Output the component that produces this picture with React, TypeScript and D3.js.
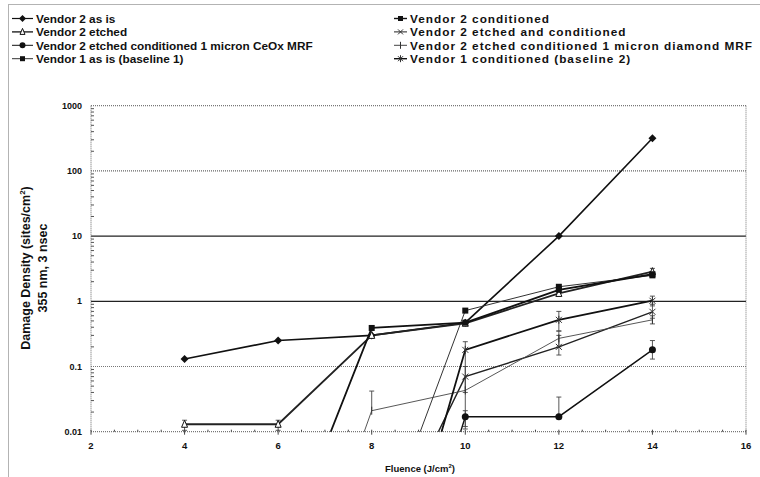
import React, { useEffect, useRef } from "react";
import * as d3 from "d3";

// fluence points (J/cm2)
const fluence = [4, 6, 8, 10, 12, 14];

const seriesNames = [
  "Vendor 2 as is",
  "Vendor 2 etched",
  "Vendor 2 etched conditioned 1 micron CeOx MRF",
  "Vendor 1 as is (baseline 1)",
  "Vendor 2 conditioned",
  "Vendor 2 etched and conditioned",
  "Vendor 2 etched conditioned 1 micron diamond MRF",
  "Vendor 1 conditioned (baseline 2)",
];

// damage density (sites/cm2); tiny values are the points that fall off the bottom of the log axis
const v2AsIs = [0.13, 0.25, 0.3, 0.47, 10, 316];
const v2Etched = [0.013, 0.013, 0.3, 0.46, 1.32, 2.85];
const v2CeOx = [null, null, 0.0000004, 0.017, 0.017, 0.18];
const v1AsIs = [null, null, 0.0001, 0.72, 1.67, 2.5];
const v2Cond = [null, 0.00009, 0.39, 0.47, 1.5, 2.6];
const v2EtchedCond = [null, null, 0.00008, 0.07, 0.2, 0.69];
const v2Diamond = [null, 0.000002, 0.021, 0.043, 0.27, 0.52];
const v1Cond = [null, null, 0.000002, 0.18, 0.52, 1.02];

// error bars (upper / lower), null = none
const errHi = [
  [null, null, null, null, null, null],
  [0.015, 0.015, null, null, null, 3.2],
  [null, null, null, 0.021, 0.034, 0.25],
  [null, null, null, null, null, null],
  [null, null, null, null, null, null],
  [null, null, null, 0.1, 0.3, 0.9],
  [null, null, 0.042, null, 0.35, 0.6],
  [null, null, null, 0.24, 0.7, 1.2],
];
const errLo = [
  [null, null, null, null, null, null],
  [0.0105, 0.0105, null, null, null, 2.5],
  [null, null, null, 0.011, null, 0.13],
  [null, null, null, null, null, null],
  [null, null, null, null, null, null],
  [null, null, null, 0.04, 0.15, 0.55],
  [null, null, null, null, 0.2, 0.45],
  [null, null, null, 0.012, 0.35, 0.85],
];

const xTicks = [2, 4, 6, 8, 10, 12, 14, 16];
const yTicks = [0.01, 0.1, 1, 10, 100, 1000];
const yTickLabels = ["0.01", "0.1", "1", "10", "100", "1000"];

const allValues = [v2AsIs, v2Etched, v2CeOx, v1AsIs, v2Cond, v2EtchedCond, v2Diamond, v1Cond];

// drawing style per series
const markers = ["diamond", "triangle", "circle", "square", "square", "cross", "plus", "star"];
const widths = [1.6, 1.8, 1.4, 1, 1.8, 1.4, 0.9, 1.8];
const strokes = ["#111", "#222", "#111", "#333", "#111", "#222", "#444", "#111"];

function drawMarker(g, type, x, y, s) {
  const k = s / 2;
  if (type === "diamond") {
    g.append("path")
      .attr("d", `M${x},${y - k - 1}L${x + k + 1},${y}L${x},${y + k + 1}L${x - k - 1},${y}Z`)
      .attr("fill", "#111");
  } else if (type === "triangle") {
    g.append("path")
      .attr("d", `M${x},${y - k - 1}L${x + k},${y + k}L${x - k},${y + k}Z`)
      .attr("fill", "#fff")
      .attr("stroke", "#111")
      .attr("stroke-width", 1);
  } else if (type === "circle") {
    g.append("circle").attr("cx", x).attr("cy", y).attr("r", k + 0.5).attr("fill", "#111");
  } else if (type === "square") {
    g.append("rect")
      .attr("x", x - k)
      .attr("y", y - k)
      .attr("width", s)
      .attr("height", s)
      .attr("fill", "#111");
  } else {
    const p = d3.path();
    if (type === "cross" || type === "star") {
      p.moveTo(x - k, y - k);
      p.lineTo(x + k, y + k);
      p.moveTo(x - k, y + k);
      p.lineTo(x + k, y - k);
    }
    if (type === "plus" || type === "star") {
      p.moveTo(x, y - k - 1);
      p.lineTo(x, y + k + 1);
    }
    g.append("path").attr("d", p.toString()).attr("stroke", "#333").attr("stroke-width", 1).attr("fill", "none");
  }
}

function Chart() {
  const ref = useRef(null);

  useEffect(() => {
    const svg = d3.select(ref.current);
    svg.selectAll("*").remove();

    const left = 91,
      right = 746,
      top = 105.7,
      bottom = 431.7;
    const x = d3.scaleLinear().domain([2, 16]).range([left, right]);
    const y = d3.scaleLog().domain([0.01, 1000]).range([bottom, top]);

    const font = "'Liberation Sans', Arial, sans-serif";

    // outer chart border (dotted)
    svg.append("rect")
      .attr("x", 8.5)
      .attr("y", 4.5)
      .attr("width", 800)
      .attr("height", 500)
      .attr("fill", "none")
      .attr("stroke", "#666")
      .attr("stroke-dasharray", "1,1");

    // legend
    const leg = svg.append("g").style("font", `bold 11.8px ${font}`);
    seriesNames.forEach((name, i) => {
      const col = i < 4 ? 0 : 1;
      const row = i % 4;
      const ly = 18.5 + row * 13.4;
      const lx0 = col === 0 ? 12 : 394;
      const lx1 = col === 0 ? 33 : 407;
      leg.append("line")
        .attr("x1", lx0)
        .attr("x2", lx1)
        .attr("y1", ly)
        .attr("y2", ly)
        .attr("stroke", strokes[i])
        .attr("stroke-width", Math.max(1, widths[i] - 0.4));
      drawMarker(leg, markers[i], (lx0 + lx1) / 2, ly, 5);
      leg.append("text")
        .attr("x", col === 0 ? 36 : 410)
        .attr("y", ly)
        .attr("dy", "0.36em")
        .attr("fill", "#111")
        .attr("letter-spacing", col === 0 ? 0 : 1)
        .text(name);
    });

    // gridlines
    const gridStyle = [
      { dash: "1,1", c: "#777" },
      { dash: "1,1", c: "#777" },
      { dash: null, c: "#222" },
      { dash: null, c: "#222" },
      { dash: "1,1", c: "#666" },
      { dash: "1,1", c: "#777" },
    ];
    svg.append("g")
      .selectAll("line")
      .data(yTicks)
      .join("line")
      .attr("x1", left)
      .attr("x2", right)
      .attr("y1", (d) => y(d))
      .attr("y2", (d) => y(d))
      .attr("stroke", (d, i) => gridStyle[i].c)
      .attr("stroke-width", 1.2)
      .attr("stroke-dasharray", (d, i) => gridStyle[i].dash);

    // plot frame sides
    svg.append("line")
      .attr("x1", right)
      .attr("x2", right)
      .attr("y1", top)
      .attr("y2", bottom)
      .attr("stroke", "#777")
      .attr("stroke-dasharray", "1,1");
    svg.append("line")
      .attr("x1", left)
      .attr("x2", left)
      .attr("y1", top)
      .attr("y2", bottom)
      .attr("stroke", "#666")
      .attr("stroke-dasharray", "1,1");

    // y minor ticks
    const minors = [];
    for (let e = -2; e < 3; e++) {
      for (let m = 2; m < 10; m++) minors.push(m * Math.pow(10, e));
    }
    svg.append("g")
      .selectAll("line")
      .data(minors)
      .join("line")
      .attr("x1", left)
      .attr("x2", left + 3)
      .attr("y1", (d) => y(d))
      .attr("y2", (d) => y(d))
      .attr("stroke", "#555");

    // x minor ticks
    const xMinors = d3.range(2, 16.01, 0.5);
    svg.append("g")
      .selectAll("line")
      .data(xMinors)
      .join("line")
      .attr("x1", (d) => x(d))
      .attr("x2", (d) => x(d))
      .attr("y1", bottom - 2)
      .attr("y2", (d) => bottom + (d % 2 === 0 ? 3 : 0))
      .attr("stroke", "#444");

    // tick labels
    svg.append("g")
      .style("font", `bold 9px ${font}`)
      .selectAll("text")
      .data(yTicks)
      .join("text")
      .attr("x", left - 9)
      .attr("y", (d) => y(d))
      .attr("dy", "0.35em")
      .attr("text-anchor", "end")
      .attr("fill", "#111")
      .text((d, i) => yTickLabels[i]);
    svg.append("g")
      .style("font", `bold 9.5px ${font}`)
      .selectAll("text")
      .data(xTicks)
      .join("text")
      .attr("x", (d) => x(d))
      .attr("y", bottom + 17)
      .attr("text-anchor", "middle")
      .attr("fill", "#111")
      .text((d) => d);

    // axis titles
    const yt = svg.append("text")
      .attr("transform", "translate(30,268) rotate(-90)")
      .attr("text-anchor", "middle")
      .attr("fill", "#111")
      .style("font", `bold 12.5px ${font}`);
    yt.append("tspan").text("Damage Density (sites/cm");
    yt.append("tspan").attr("dy", -5).style("font-size", "8px").text("2");
    yt.append("tspan").attr("dy", 5).text(")");
    svg.append("text")
      .attr("transform", "translate(47,268) rotate(-90)")
      .attr("text-anchor", "middle")
      .attr("fill", "#111")
      .style("font", `bold 12.5px ${font}`)
      .text("355 nm, 3 nsec");

    const xt = svg.append("text")
      .attr("x", 420)
      .attr("y", 472)
      .attr("text-anchor", "middle")
      .attr("fill", "#111")
      .style("font", `bold 9.5px ${font}`);
    xt.append("tspan").text("Fluence (J/cm");
    xt.append("tspan").attr("dy", -4).style("font-size", "6px").text("2");
    xt.append("tspan").attr("dy", 4).text(")");

    // clip to plot area
    svg.append("clipPath")
      .attr("id", "plotClip")
      .append("rect")
      .attr("x", left)
      .attr("y", top - 8)
      .attr("width", right - left)
      .attr("height", bottom - top + 8);

    const plot = svg.append("g").attr("clip-path", "url(#plotClip)");

    const line = d3
      .line()
      .defined((d) => d[1] != null)
      .x((d) => x(d[0]))
      .y((d) => y(d[1]));

    // error bars
    allValues.forEach((vals, i) => {
      vals.forEach((v, j) => {
        if (v == null) return;
        const hi = errHi[i][j];
        const lo = errLo[i][j];
        const cx = x(fluence[j]);
        [hi, lo].forEach((e) => {
          if (e == null) return;
          plot.append("line")
            .attr("x1", cx)
            .attr("x2", cx)
            .attr("y1", y(v))
            .attr("y2", y(e))
            .attr("stroke", "#444")
            .attr("stroke-width", 0.9);
          plot.append("line")
            .attr("x1", cx - 2.5)
            .attr("x2", cx + 2.5)
            .attr("y1", y(e))
            .attr("y2", y(e))
            .attr("stroke", "#444")
            .attr("stroke-width", 0.9);
        });
      });
    });

    // lines
    allValues.forEach((vals, i) => {
      plot.append("path")
        .datum(fluence.map((f, j) => [f, vals[j]]))
        .attr("d", line)
        .attr("fill", "none")
        .attr("stroke", strokes[i])
        .attr("stroke-width", widths[i]);
    });

    // markers (only for points inside the axis range)
    const mk = svg.append("g");
    allValues.forEach((vals, i) => {
      vals.forEach((v, j) => {
        if (v == null || v < 0.01) return;
        drawMarker(mk, markers[i], x(fluence[j]), y(v), 6);
      });
    });
  }, []);

  return (
    <svg
      ref={ref}
      width={760}
      height={477}
      style={{ position: "absolute", left: 0, top: 0, background: "#fff" }}
    />
  );
}

export default function App() {
  return <Chart />;
}
